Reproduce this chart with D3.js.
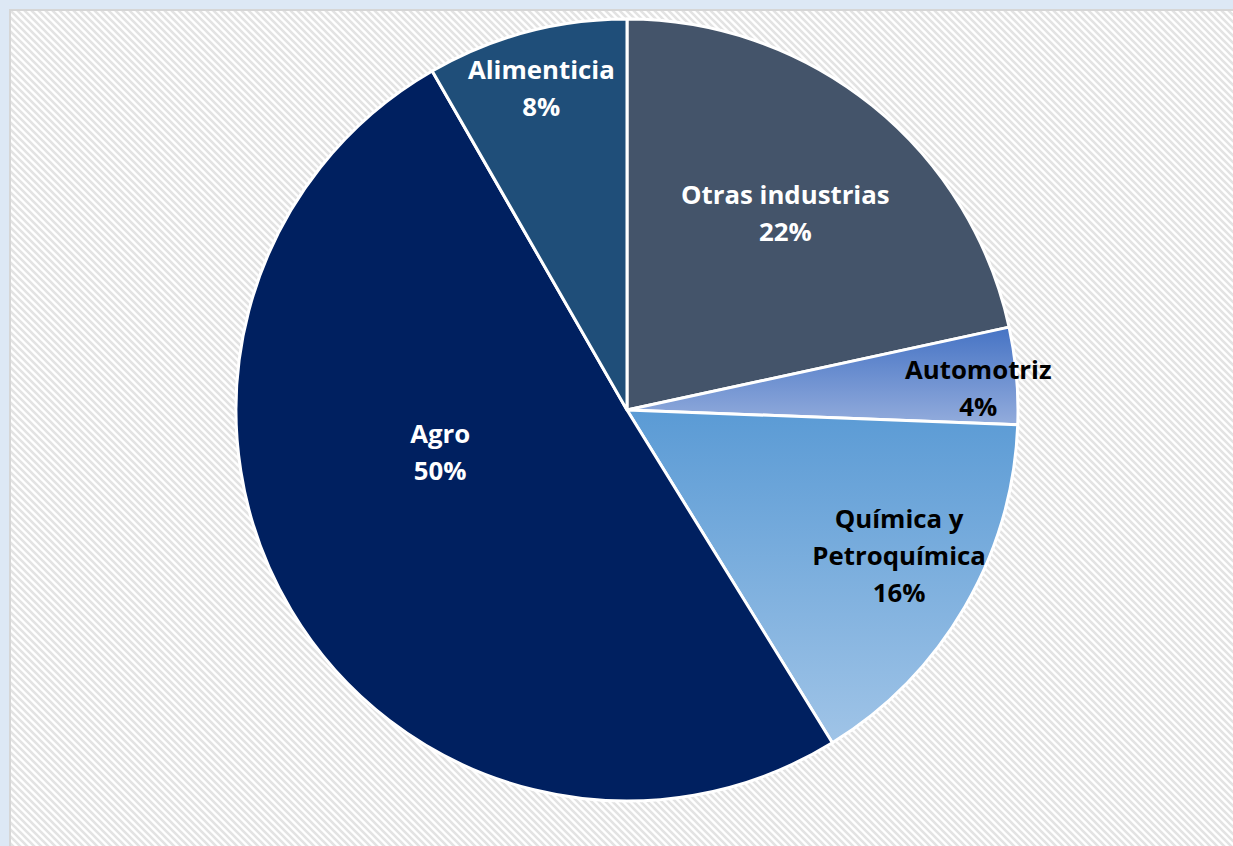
<!DOCTYPE html>
<html>
<head>
<meta charset="utf-8">
<script src="https://cdn.jsdelivr.net/npm/d3@7"></script>
<style>
    html, body { margin: 0; padding: 0; background: #dde8f5; }
    svg { display: block; }
</style>
</head>
<body>
<script>
// sector shares (%), clockwise from 12 o'clock
const sectors = ["Otras industrias", "Automotriz", "Química y Petroquímica", "Agro", "Alimenticia"];
const shares = [21.6, 4.0, 15.6, 50.5, 8.3];
const labelText = [["Otras industrias", "22%"], ["Automotriz", "4%"], ["Química y", "Petroquímica", "16%"], ["Agro", "50%"], ["Alimenticia", "8%"]];

const W = 1233, H = 846;
const cx = 627, cy = 410, R = 391;

// fills: flat colours or gradient ids
const fills = {
    "Otras industrias": "#44546a",
    "Automotriz": "url(#gradAuto)",
    "Química y Petroquímica": "url(#gradQuim)",
    "Agro": "#002060",
    "Alimenticia": "#1f4e79"
};
const textColor = {
    "Otras industrias": "#ffffff",
    "Automotriz": "#000000",
    "Química y Petroquímica": "#000000",
    "Agro": "#ffffff",
    "Alimenticia": "#ffffff"
};
// where the label block sits (fraction of radius, and angle shift in degrees from the slice middle)
const labelPlace = {
    "Otras industrias": { r: 0.645, shift: 0 },
    "Automotriz": { r: 0.90, shift: 1.5 },
    "Química y Petroquímica": { r: 0.79, shift: -2 },
    "Agro": { r: 0.49, shift: 18 },
    "Alimenticia": { r: 0.85, shift: 0 }
};

const svg = d3.select("body").append("svg")
    .attr("width", W)
    .attr("height", H);

const defs = svg.append("defs");

// diagonal hatch background
const hatch = defs.append("pattern")
    .attr("id", "hatch")
    .attr("patternUnits", "userSpaceOnUse")
    .attr("width", 7)
    .attr("height", 7);
hatch.append("rect").attr("width", 7).attr("height", 7).attr("fill", "#ffffff");
hatch.append("path")
    .attr("d", "M-1,-1 L8,8 M-1,6 L1,8 M6,-1 L8,1")
    .attr("stroke", "#e3e3e3")
    .attr("stroke-width", 2.6);

// gradients are in the pie group's space (origin at the centre)
function vGrad(id, top, bottom, y1, y2) {
    let g = defs.append("linearGradient")
        .attr("id", id)
        .attr("gradientUnits", "userSpaceOnUse")
        .attr("x1", 0).attr("x2", 0)
        .attr("y1", y1 - cy).attr("y2", y2 - cy);
    g.append("stop").attr("offset", "0%").attr("stop-color", top);
    g.append("stop").attr("offset", "100%").attr("stop-color", bottom);
}
vGrad("gradAuto", "#4472c4", "#93acdc", 325, 425);
vGrad("gradQuim", "#5b9bd5", "#a0c4e7", 412, 745);

svg.append("rect")
    .attr("x", 10).attr("y", 10)
    .attr("width", W).attr("height", H)
    .attr("fill", "url(#hatch)")
    .attr("stroke", "#d6d6d6")
    .attr("stroke-width", 2);

const data = sectors.map((s, i) => ({ name: s, value: shares[i], lines: labelText[i] }));

const pie = d3.pie()
    .value(d => d.value)
    .sort(null);

const arcs = pie(data);

const arc = d3.arc()
    .innerRadius(0)
    .outerRadius(R);

const g = svg.append("g")
    .attr("transform", "translate(" + cx + "," + cy + ")");

g.selectAll("path.slice")
    .data(arcs)
    .enter()
    .append("path")
    .attr("class", "slice")
    .attr("d", arc)
    .attr("fill", d => fills[d.data.name])
    .attr("stroke", "#ffffff")
    .attr("stroke-width", 3)
    .attr("stroke-linejoin", "round");

const lineH = 37;

let labels = g.selectAll("text.lbl")
    .data(arcs)
    .enter()
    .append("text")
    .attr("class", "lbl")
    .attr("transform", function (d) {
        let p = labelPlace[d.data.name];
        let a = (d.startAngle + d.endAngle) / 2 + p.shift * Math.PI / 180;
        return "translate(" + (Math.sin(a) * R * p.r) + "," + (-Math.cos(a) * R * p.r) + ")";
    })
    .attr("text-anchor", "middle")
    .attr("font-family", "'Open Sans', sans-serif")
    .attr("font-weight", "bold")
    .attr("font-size", 25.8)
    .attr("fill", d => textColor[d.data.name]);

labels.each(function (d) {
    let n = d.data.lines.length;
    let t = d3.select(this);
    d.data.lines.forEach(function (line, k) {
        t.append("tspan")
            .attr("x", 0)
            .attr("y", (k - (n - 1) / 2) * lineH + 9)
            .text(line);
    });
});
</script>
</body>
</html>
